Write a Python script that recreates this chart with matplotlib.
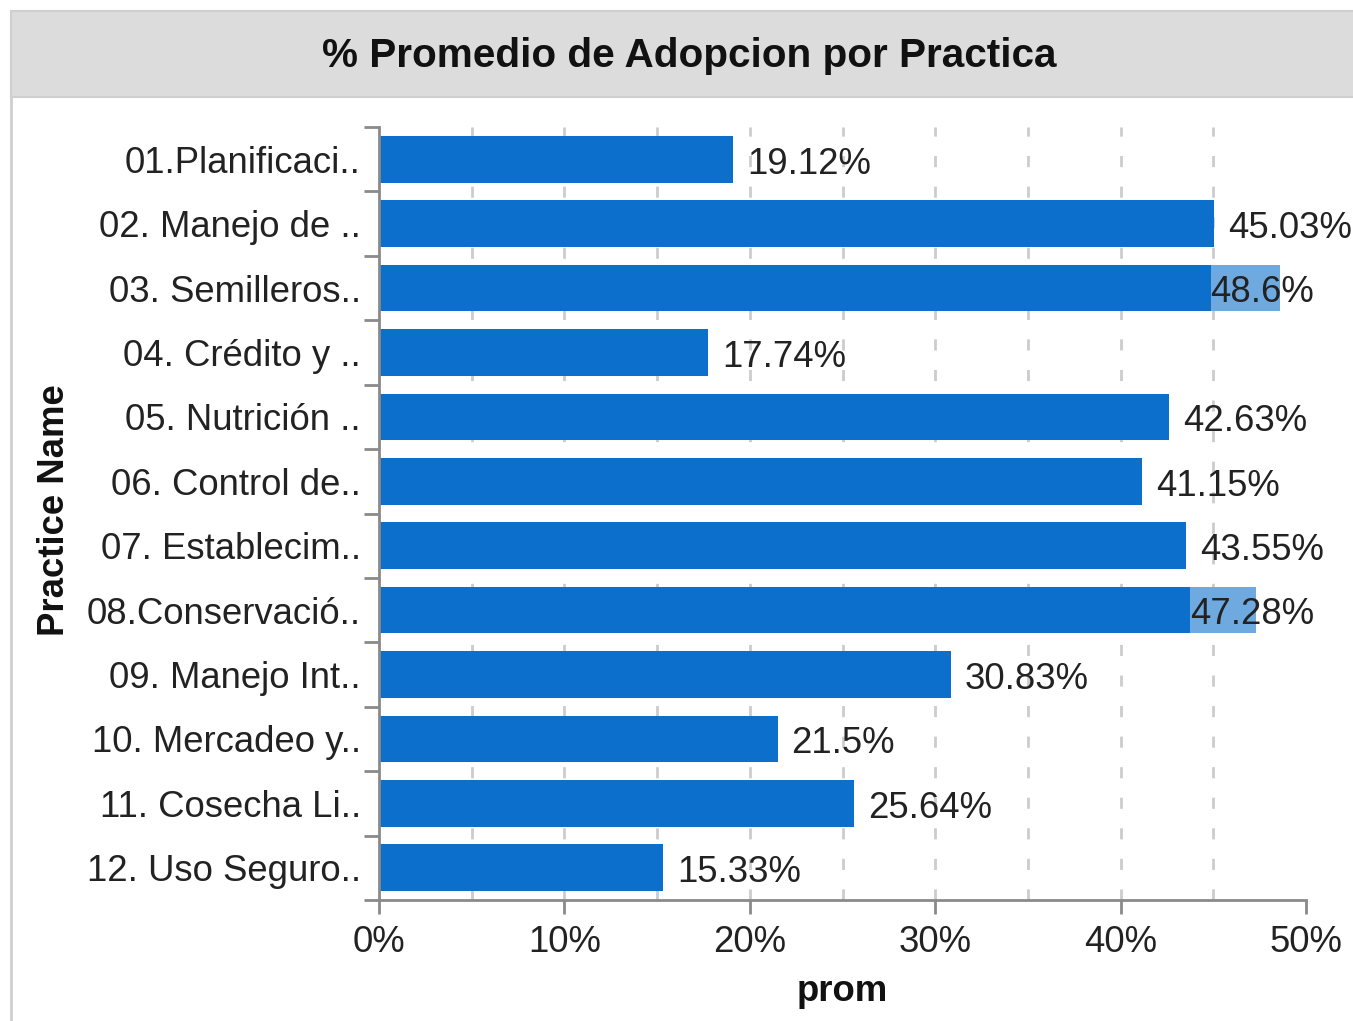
import matplotlib
matplotlib.use('Agg')
import matplotlib.pyplot as plt
import numpy as np
from matplotlib.patches import Rectangle

# Practice names (already truncated as in the dashboard) and average adoption
practices = [
    "01.Planificaci..", "02. Manejo de ..", "03. Semilleros..", "04. Crédito y ..",
    "05. Nutrición ..", "06. Control de..", "07. Establecim..", "08.Conservació..",
    "09. Manejo Int..", "10. Mercadeo y..", "11. Cosecha Li..", "12. Uso Seguro..",
]
prom = [19.12, 45.03, 48.6, 17.74, 42.63, 41.15, 43.55, 47.28, 30.83, 21.5, 25.64, 15.33]
x_ticks = [0, 10, 20, 30, 40, 50]

BLUE = '#0d6fcc'
LIGHT = '#6ea9e0'
AXIS = '#8a8a8a'
FS = 26.3

plt.rcParams['font.family'] = ['Liberation Sans', 'DejaVu Sans']

W, H = 1353, 1021
fig = plt.figure(figsize=(W / 100, H / 100), dpi=100)

# panel frame and grey title band
fig.patches.append(Rectangle((11 / W, -0.01), 1.0, 1 - 11 / H + 0.01, transform=fig.transFigure,
                             fill=False, edgecolor='#cfcfcf', lw=2))
fig.patches.append(Rectangle((11 / W, 1 - 97 / H), 1.0, 86 / H, transform=fig.transFigure,
                             facecolor='#dcdcdc', edgecolor='#cfcfcf', lw=1.5))
fig.text(689 / W, 1 - 56 / H, '% Promedio de Adopcion por Practica', ha='center', va='center',
         fontsize=29.2, fontweight='bold', color='#111111')

ax = fig.add_axes([379 / W, 1 - 900 / H, (1306 - 379) / W, (900 - 127) / H])
y = np.arange(len(prom))
bar_h = 0.725
ax.barh(y, prom, height=bar_h, color=BLUE, zorder=2)
ax.set_xlim(0, 50)
ax.set_ylim(len(prom) - 0.5, -0.5)

# dashed vertical grid every 5%
for g in range(5, 50, 5):
    ax.axvline(g, color='#cccccc', lw=2, ls=(0, (4, 7)), zorder=1)

for s in ['top', 'right']:
    ax.spines[s].set_visible(False)
for s in ['left', 'bottom']:
    ax.spines[s].set_color(AXIS)
    ax.spines[s].set_linewidth(2)

ax.set_yticks(y)
ax.set_yticklabels(practices, fontsize=FS, color='#222222')
ax.set_yticks(np.arange(len(prom) + 1) - 0.5, minor=True)
ax.tick_params(axis='y', which='major', length=0, pad=13)
ax.tick_params(axis='y', which='minor', length=11, width=2, color=AXIS)

ax.set_xticks(x_ticks)
ax.set_xticklabels([f'{t}%' for t in x_ticks], fontsize=FS, color='#222222')
ax.tick_params(axis='x', which='major', length=10, width=2, color=AXIS, pad=8)
ax.set_xlabel('prom', fontsize=FS, fontweight='bold', labelpad=10, color='#111111')

fig.text(55 / W, 1 - 510 / H, 'Practice Name', rotation=90, ha='center', va='center',
         fontsize=FS, fontweight='bold', color='#111111')

# value labels; the ones that would run off the edge sit over the bar end
fig.canvas.draw()
renderer = fig.canvas.get_renderer()
for i, v in enumerate(prom):
    lab = f'{v:g}%'
    if v > 46:
        t = ax.annotate(lab, xy=(1, i), xycoords=ax.get_yaxis_transform(), xytext=(6, -3.5),
                        textcoords='offset points', ha='right', va='center',
                        fontsize=FS, color='#222222', zorder=4)
        bb = t.get_window_extent(renderer)
        left = ax.transData.inverted().transform((bb.x0, 0))[0]
        ax.barh(i, v - left, left=left, height=bar_h, color=LIGHT, zorder=3)
    else:
        ax.annotate(lab, xy=(v, i), xytext=(10, -3.5), textcoords='offset points',
                    ha='left', va='center', fontsize=FS, color='#222222', zorder=4)

fig.savefig('out.png', dpi=100)
